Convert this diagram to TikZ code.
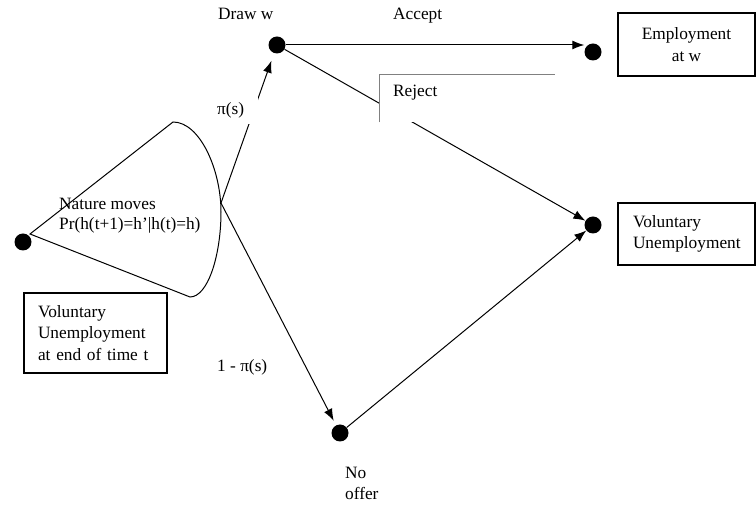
\documentclass[tikz,border=0pt]{standalone}
\usepackage{fontspec}
\setmainfont{Liberation Serif}
\usetikzlibrary{arrows.meta}
\tikzset{
	dot/.style={circle, fill=black, inner sep=0pt, minimum size=17pt},
	arr/.style={-{Latex[length=12pt,width=9pt]}, line width=1pt},
	box/.style={draw=black, line width=1.2pt, inner ysep=0pt},
	lbl/.style={anchor=base west, inner sep=0pt}
}
\begin{document}
\begin{tikzpicture}[x=1pt, y=-1pt, font=\fontsize{17.3pt}{21.5pt}\selectfont]
	\useasboundingbox (0,0) rectangle (756,510);
	% states
	\node[dot] (start) at (23,242) {};
	\node[dot] (draww) at (277,45) {};
	\node[dot] (emp) at (593,52) {};
	\node[dot] (vol) at (593,225) {};
	\node[dot] (nooffer) at (340,433) {};
	% nature's move
	\coordinate (fork) at (221,203);
	\draw[line width=1pt] (30,234) -- (173,122) .. controls (200,122) and (221,170) .. (221,212) .. controls (221,255) and (208,297) .. (190,297) -- cycle;
	% moves
	\draw[arr, shorten >=8pt] (fork) -- (draww);
	\draw[arr, shorten >=5pt] (fork) -- (nooffer);
	\draw[arr] (draww) -- (draww -| emp.west);
	\draw[arr] (draww) -- (vol);
	\draw[arr] (nooffer) -- (vol);
	% reject box, it hides part of the line
	\node[fill=white, anchor=north west, inner sep=0pt, minimum width=176pt, minimum height=48pt] (rejbox) at (379,74) {};
	\draw[gray, line width=0.8pt] (rejbox.south west) -- (rejbox.north west) -- (rejbox.north east);
	\node[lbl] (reject) at (393,97) {Reject};
	% outcome boxes
	\node[box, minimum width=143pt, minimum height=80pt, text width=115pt, inner xsep=14pt, align=left] (tbox) at (95.5,333) {Voluntary\\Unemployment\\at end of time t};
	\node[box, minimum width=137pt, minimum height=63pt, align=center] (empbox) at (686.5,44.5) {Employment\\at w};
	\node[box, minimum width=137pt, minimum height=62pt, text width=107pt, inner xsep=15pt, align=left] (volbox) at (686.5,234) {Voluntary\\Unemployment};
	% labels
	\node[lbl] (nature) at (59,210) {Nature moves};
	\node[lbl] (prob) at (59,230) {Pr(h(t+1)=h’|h(t)=h)};
	\node[lbl] (drawlbl) at (218,20) {Draw w};
	\node[lbl] (accept) at (393,20) {Accept};
	\node[fill=white, anchor=base west, inner xsep=3pt, inner ysep=0pt, text width=38pt, text height=26pt, text depth=9pt] (pis) at (214,115) {π(s)};
	\node[lbl] (npis) at (217,372) {1 - π(s)};
	\node[lbl] (no) at (345,479) {No};
	\node[lbl] (offer) at (345,500) {offer};
\end{tikzpicture}
\end{document}
